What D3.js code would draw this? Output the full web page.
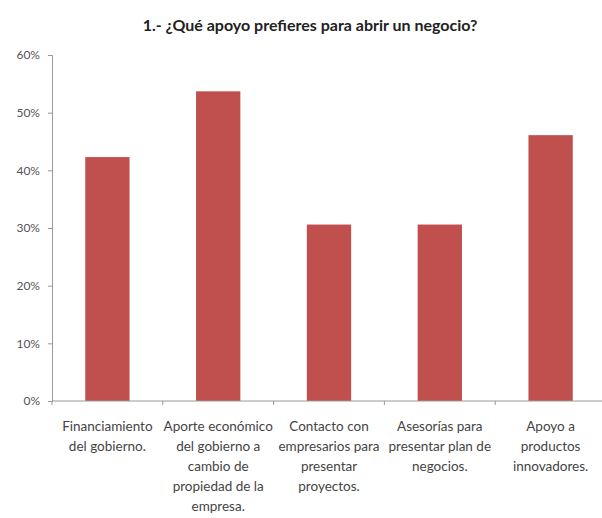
<!DOCTYPE html>
<html><head><meta charset="utf-8">
<script src="https://cdn.jsdelivr.net/npm/d3@7"></script>
<style>body{margin:0;background:#fff}svg{display:block}</style>
</head><body>
<script>
const title = "1.- ¿Qué apoyo prefieres para abrir un negocio?";
const categories = [
  ["Financiamiento", "del gobierno."],
  ["Aporte económico", "del gobierno a", "cambio de", "propiedad de la", "empresa."],
  ["Contacto con", "empresarios para", "presentar", "proyectos."],
  ["Asesorías para", "presentar plan de", "negocios."],
  ["Apoyo a", "productos", "innovadores."]
];
const values = [0.423, 0.537, 0.306, 0.306, 0.461];
const yTicks = [0, 0.1, 0.2, 0.3, 0.4, 0.5, 0.6];

const W = 602, H = 518;
const m = {left: 52, right: -4, top: 55, bottom: 117};
const svg = d3.select("body").append("svg").attr("width", W).attr("height", H);
const font = "Lato, 'Open Sans', sans-serif";

const x = d3.scaleBand().domain(d3.range(categories.length))
  .range([m.left, W - m.right]).paddingInner(0.6).paddingOuter(0.3);
const y = d3.scaleLinear().domain([0, 0.6]).range([H - m.bottom, m.top]);

svg.append("text").attr("x", 310).attr("y", 31).attr("text-anchor", "middle")
  .attr("font-family", font).attr("font-weight", "bold").attr("font-size", 16)
  .attr("fill", "#222").text(title);

// y axis
const ya = svg.append("g").attr("transform", `translate(${m.left},0)`)
  .call(d3.axisLeft(y).tickValues(yTicks).tickFormat(d3.format(".0%")).tickSizeOuter(0).tickSize(4).tickPadding(8));
ya.select(".domain").attr("stroke", "#999");
ya.selectAll(".tick line").attr("stroke", "#999");
ya.selectAll(".tick text").attr("font-family", font).attr("font-size", 12).attr("fill", "#555");

// bars
svg.selectAll("rect.bar").data(values).join("rect").attr("class", "bar")
  .attr("x", (d, i) => x(i)).attr("width", x.bandwidth())
  .attr("y", d => y(d)).attr("height", d => y(0) - y(d))
  .attr("fill", "#C0504D");

// x axis
const step = x.step();
const xa = svg.append("g").attr("transform", `translate(0,${y(0)})`);
xa.append("line").attr("x1", m.left).attr("x2", W).attr("stroke", "#999");
xa.selectAll("line.tk").data(d3.range(categories.length + 1)).join("line").attr("class", "tk")
  .attr("x1", i => m.left + i * step).attr("x2", i => m.left + i * step)
  .attr("y1", 0).attr("y2", 4).attr("stroke", "#999");
categories.forEach((lines, i) => {
  const t = xa.append("text").attr("text-anchor", "middle")
    .attr("font-family", font).attr("font-size", 13.5).attr("fill", "#444");
  lines.forEach((l, j) => {
    t.append("tspan").attr("x", x(i) + x.bandwidth() / 2).attr("y", 30 + j * 20).text(l);
  });
});
</script>
</body></html>
